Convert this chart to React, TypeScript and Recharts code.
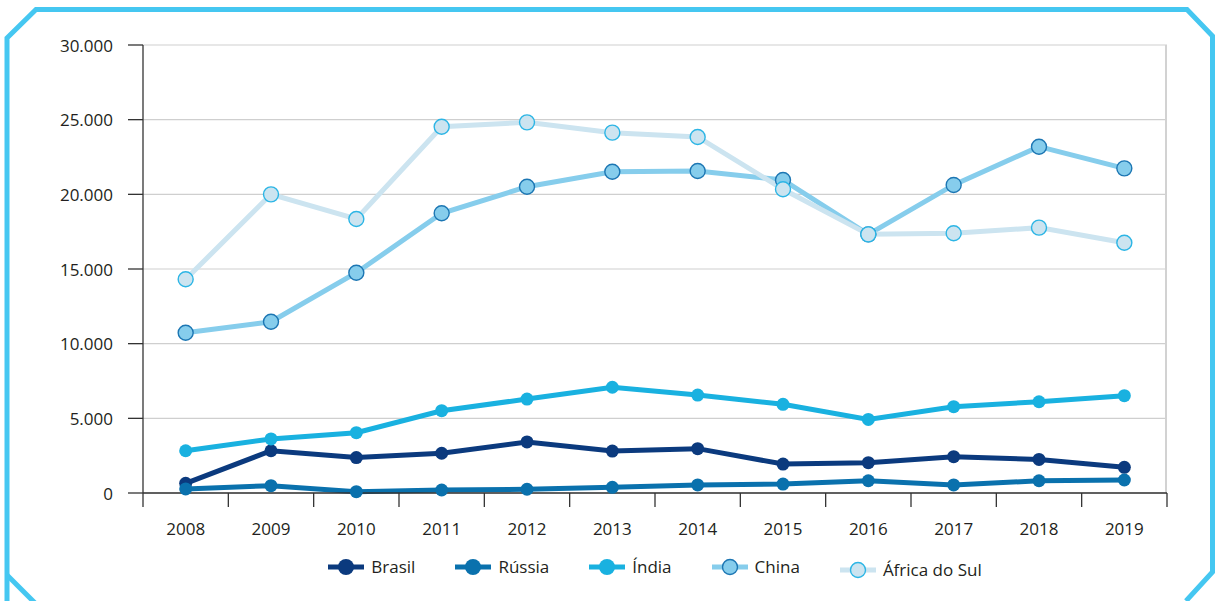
import React from "react";
import { LineChart, Line, XAxis, YAxis, CartesianGrid } from "recharts";

const years = ["2008", "2009", "2010", "2011", "2012", "2013", "2014", "2015", "2016", "2017", "2018", "2019"];
const brasil = [650, 2830, 2370, 2660, 3420, 2810, 2970, 1940, 2030, 2430, 2250, 1720];
const russia = [270, 490, 90, 200, 250, 380, 540, 600, 820, 540, 820, 870];
const india = [2830, 3620, 4040, 5510, 6290, 7080, 6560, 5940, 4930, 5780, 6110, 6520];
const china = [10730, 11470, 14750, 18730, 20510, 21510, 21560, 20960, 17320, 20630, 23190, 21740];
const africa = [14310, 20000, 18350, 24530, 24820, 24130, 23840, 20340, 17320, 17390, 17770, 16760];
const yTicks = [0, 5000, 10000, 15000, 20000, 25000, 30000];

const seriesNames = ["Brasil", "Rússia", "Índia", "China", "África do Sul"];

const data = years.map((y, i) => ({
  year: y,
  brasil: brasil[i],
  russia: russia[i],
  india: india[i],
  china: china[i],
  africa: africa[i],
}));

const W = 1215;
const H = 601;
const PLOT_LEFT = 143;
const PLOT_RIGHT = 1167;
const PLOT_TOP = 45;
const PLOT_BOTTOM = 493;
const X_AXIS_H = 50;
const BAND = (PLOT_RIGHT - PLOT_LEFT) / years.length;
const FONT = "'Open Sans', 'Noto Sans', sans-serif";
const TEXT = "#231F20";
const FS = 17;

const series = [
  { key: "brasil", name: seriesNames[0], color: "#0B3A7E", r: 6.5, fill: "#0B3A7E", stroke: "none", sw: 0 },
  { key: "russia", name: seriesNames[1], color: "#0A71AD", r: 6.5, fill: "#0A71AD", stroke: "none", sw: 0 },
  { key: "india", name: seriesNames[2], color: "#19B1E0", r: 6.5, fill: "#19B1E0", stroke: "none", sw: 0 },
  { key: "china", name: seriesNames[3], color: "#86CDEC", r: 7.5, fill: "#86CDEC", stroke: "#1C76B3", sw: 1.4 },
  { key: "africa", name: seriesNames[4], color: "#CCE4F0", r: 7.5, fill: "#CCE4F0", stroke: "#2CB5E5", sw: 1.4 },
];

const fmt = (v: number) => String(v).replace(/\B(?=(\d{3})+(?!\d))/g, ".");

const XTick = (props: any) => {
  const { x, y, payload, index } = props;
  const last = index === years.length - 1;
  return (
    <g>
      <line x1={x - BAND / 2} x2={x - BAND / 2} y1={y} y2={y + 14} stroke="#333" strokeWidth={1.3} />
      {last && <line x1={x + BAND / 2} x2={x + BAND / 2} y1={y} y2={y + 14} stroke="#333" strokeWidth={1.3} />}
      <text x={x} y={y + 35} textAnchor="middle" dominantBaseline="central" fontFamily={FONT} fontSize={FS} fill={TEXT}>
        {payload.value}
      </text>
    </g>
  );
};

const YTick = (props: any) => {
  const { x, y, payload } = props;
  return (
    <text x={x} y={y} textAnchor="end" dominantBaseline="central" fontFamily={FONT} fontSize={FS} fill={TEXT}>
      {fmt(payload.value)}
    </text>
  );
};

const LegendIcon = ({ s }: { s: any }) => (
  <svg width={36} height={18} style={{ display: "block" }}>
    <line x1={0} x2={36} y1={9} y2={9} stroke={s.color} strokeWidth={5} />
    <circle cx={18} cy={9} r={s.sw ? 7.5 : 8} fill={s.fill} stroke={s.stroke} strokeWidth={s.sw} />
  </svg>
);

export default function App() {
  return (
    <div style={{ position: "absolute", left: 0, top: 0, width: W, height: H, background: "#fff", overflow: "hidden" }}>
      <svg width={W} height={H} style={{ position: "absolute", left: 0, top: 0 }}>
        <path
          d="M 7 603 L 7 575 L 7 38 L 36 9.5 L 1187 9.5 L 1212.5 36 L 1212.5 572 L 1186 601"
          fill="none"
          stroke="#45C7F1"
          strokeWidth={5}
        />
        <path d="M 7 575 L 36 604" fill="none" stroke="#45C7F1" strokeWidth={5} />
      </svg>
      <div style={{ position: "absolute", left: 0, top: 0 }}>
        <LineChart
          width={W}
          height={H}
          data={data}
          margin={{ top: PLOT_TOP, right: W - PLOT_RIGHT, left: 0, bottom: H - PLOT_BOTTOM - X_AXIS_H }}
        >
          <CartesianGrid vertical={false} stroke="#cfcfcf" strokeWidth={1.2} />
          <CartesianGrid
            horizontal={false}
            vertical={true}
            verticalPoints={[PLOT_RIGHT - 1]}
            stroke="#d2d2d2"
            strokeWidth={2}
          />
          <XAxis
            dataKey="year"
            type="category"
            scale="band"
            height={X_AXIS_H}
            tickLine={false}
            tickSize={0}
            tickMargin={0}
            axisLine={{ stroke: "#333", strokeWidth: 1.3 }}
            tick={<XTick />}
            interval={0}
          />
          <YAxis
            width={PLOT_LEFT}
            domain={[0, 30000]}
            ticks={yTicks}
            tickSize={15}
            tickMargin={15}
            tickLine={{ stroke: "#333", strokeWidth: 1.3 }}
            axisLine={{ stroke: "#333", strokeWidth: 1.3 }}
            tick={<YTick />}
            interval={0}
          />
          {series.map((s) => (
            <Line
              key={s.key}
              dataKey={s.key}
              name={s.name}
              type="linear"
              stroke={s.color}
              strokeWidth={5}
              isAnimationActive={false}
              dot={{ r: s.r, fill: s.fill, stroke: s.stroke, strokeWidth: s.sw, fillOpacity: 1 }}
              activeDot={false}
            />
          ))}
        </LineChart>
      </div>
      <div
        style={{
          position: "absolute",
          left: PLOT_LEFT,
          width: PLOT_RIGHT - PLOT_LEFT,
          top: 556,
          display: "flex",
          justifyContent: "center",
          alignItems: "center",
          fontFamily: FONT,
          fontSize: FS,
          color: TEXT,
        }}
      >
        {series.map((s, i) => (
          <div
            key={s.key}
            style={{
              display: "flex",
              alignItems: "center",
              marginLeft: i === 0 ? 0 : 40,
              position: "relative",
              top: i === series.length - 1 ? 3 : 0,
            }}
          >
            <LegendIcon s={s} />
            <span style={{ marginLeft: 7, lineHeight: "22px" }}>{s.name}</span>
          </div>
        ))}
      </div>
    </div>
  );
}
